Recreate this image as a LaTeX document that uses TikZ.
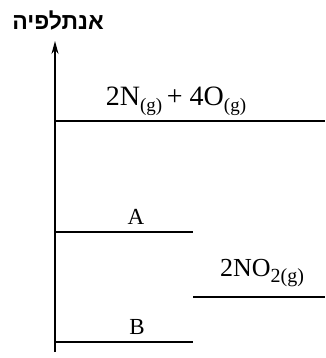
\documentclass[tikz,border=0pt]{standalone}
\usepackage{fontspec}
\setmainfont{Liberation Serif}
\newfontfamily\hebfont[Script=Hebrew]{Liberation Sans}
\TeXXeTstate=1
\usetikzlibrary{arrows.meta}
\newcommand\lowsub[1]{\raisebox{-0.45ex}{\fontsize{19}{19}\selectfont #1}}
\newcommand\lowsubN[1]{\raisebox{-0.45ex}{\fontsize{20}{20}\selectfont #1}}
\tikzset{
  level/.style={line width=1.3pt},
  lbl/.style={inner sep=0pt},
  axis/.style={line width=1.4pt, -{Stealth[length=13pt,width=7pt]}}
}
\begin{document}
\begin{tikzpicture}[x=1pt,y=-1pt]
\useasboundingbox (0,0) rectangle (325,358);
\coordinate (bot) at (55,352);
\coordinate (top) at (55,41);
\draw[axis] (bot) -- (top);
\node[inner sep=0pt, font=\hebfont\bfseries\fontsize{23}{23}\selectfont] (ylab) at (58,20) {\beginR אנתלפיה\endR};
% levels
\coordinate (l1a) at (55,121); \coordinate (l1b) at (325,121);
\coordinate (la) at (55,232); \coordinate (lab) at (193,232);
\coordinate (lna) at (193,297); \coordinate (lnb) at (325,297);
\coordinate (lba) at (55,342); \coordinate (lbb) at (193,342);
\draw[level] (l1a) -- (l1b);
\draw[level] (la) -- (lab);
\draw[level] (lna) -- (lnb);
\draw[level] (lba) -- (lbb);
\node[lbl, font=\fontsize{28}{28}\selectfont] (t1) at (176,101) {2N\lowsub{(g)}\,+ 4O\lowsub{(g)}};
\node[lbl, font=\fontsize{23}{23}\selectfont] (tA) at (136,217) {A};
\node[lbl, font=\fontsize{26}{26}\selectfont] (tN) at (262,273) {2NO\lowsubN{2(g)}};
\node[lbl, font=\fontsize{23}{23}\selectfont] (tB) at (137,327) {B};
\end{tikzpicture}
\end{document}
